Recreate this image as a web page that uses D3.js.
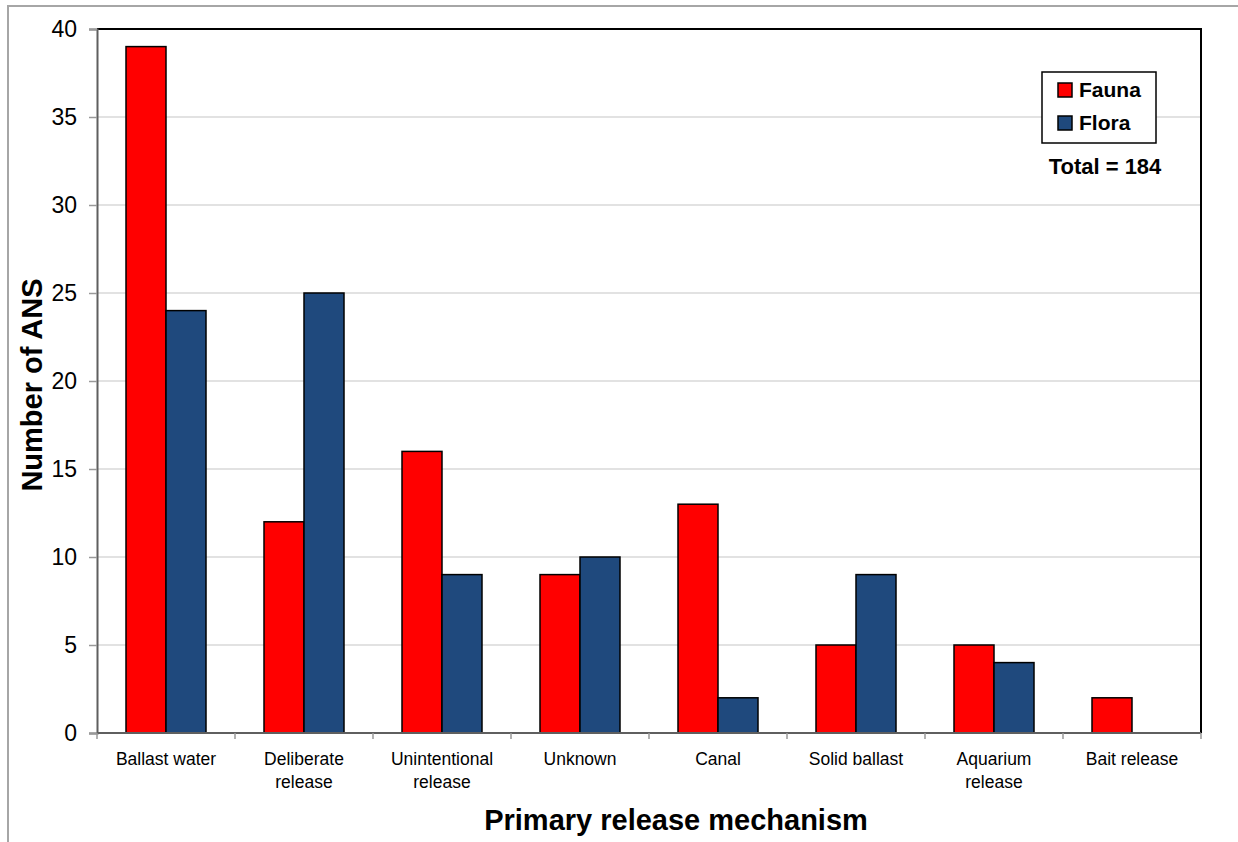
<!DOCTYPE html>
<html>
<head>
<meta charset="utf-8">
<script src="https://cdn.jsdelivr.net/npm/d3@7"></script>
<style>
  html, body { margin: 0; padding: 0; background: #fff; }
  svg { display: block; font-family: Arial, "Liberation Sans", sans-serif; }
</style>
</head>
<body>
<div id="chart"></div>
<script>
// ── data ────────────────────────────────────────────────
const categories = [
  ["Ballast water"],
  ["Deliberate", "release"],
  ["Unintentional", "release"],
  ["Unknown"],
  ["Canal"],
  ["Solid ballast"],
  ["Aquarium", "release"],
  ["Bait release"]
];
const series = ["Fauna", "Flora"];
const fauna = [39, 12, 16, 9, 13, 5, 5, 2];
const flora = [24, 25, 9, 10, 2, 9, 4, 0];
const yTicks = [0, 5, 10, 15, 20, 25, 30, 35, 40];
const totalLabel = "Total = 184";

const colors = { Fauna: "#ff0000", Flora: "#1f497d" };

// ── canvas ──────────────────────────────────────────────
const W = 1238, H = 842;
const plot = { left: 97, top: 29, right: 1201, bottom: 733 };

const svg = d3.select("#chart").append("svg").attr("width", W).attr("height", H);

// outer chart frame (clipped by window on right/bottom)
svg.append("rect")
  .attr("x", 8).attr("y", 6).attr("width", W).attr("height", H)
  .attr("fill", "none").attr("stroke", "#a6a6a6").attr("stroke-width", 2);

const x0 = d3.scaleBand()
  .domain(d3.range(categories.length))
  .range([plot.left, plot.right])
  .paddingInner(0).paddingOuter(0);

const x1 = d3.scaleBand()
  .domain(series)
  .range([0, x0.bandwidth()])
  .paddingOuter(0.725).paddingInner(0);

const y = d3.scaleLinear().domain([0, 40]).range([plot.bottom, plot.top]);

// ── gridlines ───────────────────────────────────────────
svg.append("g")
  .selectAll("line")
  .data(yTicks.filter(t => t > 0 && t < 40))
  .enter().append("line")
  .attr("x1", plot.left).attr("x2", plot.right)
  .attr("y1", d => y(d)).attr("y2", d => y(d))
  .attr("stroke", "#d9d9d9").attr("stroke-width", 1.5);

// ── bars ────────────────────────────────────────────────
const rows = categories.map((c, i) => ({ i, Fauna: fauna[i], Flora: flora[i] }));

const groups = svg.append("g")
  .selectAll("g")
  .data(rows)
  .enter().append("g")
  .attr("transform", d => `translate(${x0(d.i)},0)`);

groups.selectAll("rect")
  .data(d => series.map(s => ({ s, v: d[s] })).filter(e => e.v > 0))
  .enter().append("rect")
  .attr("x", d => x1(d.s))
  .attr("width", x1.bandwidth())
  .attr("y", d => y(d.v))
  .attr("height", d => y(0) - y(d.v))
  .attr("fill", d => colors[d.s])
  .attr("stroke", "#000").attr("stroke-width", 1.5);

// ── plot border (top/right) ─────────────────────────────
svg.append("path")
  .attr("d", `M${plot.left},${plot.top}H${plot.right}V${plot.bottom}`)
  .attr("fill", "none").attr("stroke", "#000").attr("stroke-width", 2);

// ── y axis ──────────────────────────────────────────────
const yAxis = svg.append("g")
  .attr("transform", `translate(${plot.left},0)`)
  .call(d3.axisLeft(y).tickValues(yTicks).tickSize(8).tickPadding(12));
yAxis.select(".domain").attr("stroke", "#5f5f5f").attr("stroke-width", 2);
yAxis.selectAll(".tick line").attr("stroke", "#999").attr("stroke-width", 1.5);
yAxis.selectAll(".tick text")
  .attr("font-size", 23).attr("fill", "#000")
  .attr("font-family", "Arial, 'Liberation Sans', sans-serif");

// ── x axis ──────────────────────────────────────────────
svg.append("line")
  .attr("x1", plot.left).attr("x2", plot.right)
  .attr("y1", plot.bottom).attr("y2", plot.bottom)
  .attr("stroke", "#5f5f5f").attr("stroke-width", 2);

svg.append("g")
  .selectAll("line")
  .data(d3.range(categories.length + 1))
  .enter().append("line")
  .attr("x1", i => plot.left + i * x0.step())
  .attr("x2", i => plot.left + i * x0.step())
  .attr("y1", plot.bottom).attr("y2", plot.bottom + 6)
  .attr("stroke", "#999").attr("stroke-width", 1.5);

const xLabels = svg.append("g")
  .selectAll("text")
  .data(categories)
  .enter().append("text")
  .attr("x", (d, i) => x0(i) + x0.bandwidth() / 2)
  .attr("y", 765)
  .attr("text-anchor", "middle")
  .attr("font-size", 17.5)
  .attr("fill", "#000");
xLabels.selectAll("tspan")
  .data(d => d)
  .enter().append("tspan")
  .attr("x", function() { return this.parentNode.getAttribute("x"); })
  .attr("dy", (d, i) => i === 0 ? 0 : 22.5)
  .text(d => d);

// ── axis titles ─────────────────────────────────────────
svg.append("text")
  .attr("x", 676)
  .attr("y", 830)
  .attr("text-anchor", "middle")
  .attr("font-size", 29).attr("font-weight", "bold")
  .text("Primary release mechanism");

svg.append("text")
  .attr("transform", `translate(42,385) rotate(-90)`)
  .attr("text-anchor", "middle")
  .attr("font-size", 29).attr("font-weight", "bold")
  .text("Number of ANS");

// ── legend ──────────────────────────────────────────────
const legend = svg.append("g").attr("transform", "translate(1042,72)");
legend.append("rect")
  .attr("width", 114).attr("height", 71)
  .attr("fill", "#fff").attr("stroke", "#000").attr("stroke-width", 1.5);

const li = legend.selectAll("g.item")
  .data(series)
  .enter().append("g")
  .attr("class", "item")
  .attr("transform", (d, i) => `translate(16,${11 + i * 33})`);
li.append("rect")
  .attr("width", 14).attr("height", 14)
  .attr("fill", d => colors[d])
  .attr("stroke", "#000").attr("stroke-width", 1.5);
li.append("text")
  .attr("x", 21).attr("y", 14)
  .attr("font-size", 21).attr("font-weight", "bold")
  .text(d => d);

svg.append("text")
  .attr("x", 1105).attr("y", 174)
  .attr("text-anchor", "middle")
  .attr("font-size", 22).attr("font-weight", "bold")
  .text(totalLabel);
</script>
</body>
</html>
